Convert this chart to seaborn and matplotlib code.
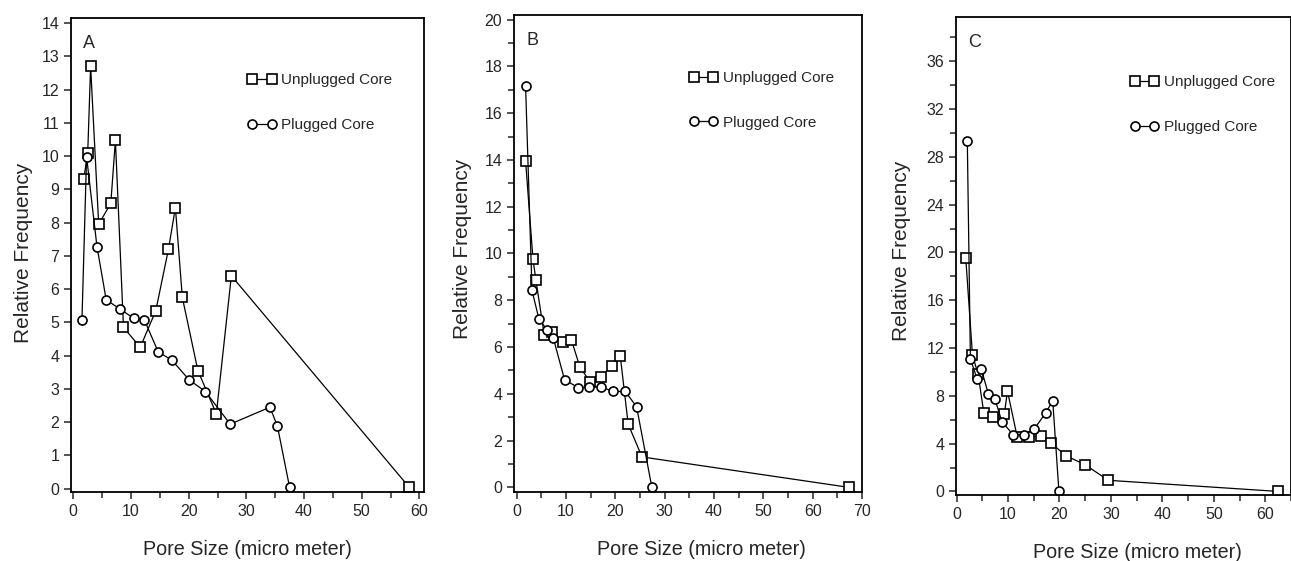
import matplotlib
matplotlib.use("Agg")
import matplotlib.pyplot as plt
from matplotlib.lines import Line2D
from matplotlib.ticker import MultipleLocator
import seaborn as sns

# panel A
a_unplug_x = [1.8, 2.5, 3.0, 4.4, 6.5, 7.3, 8.7, 11.6, 14.3, 16.5, 17.7, 18.9, 21.6, 24.8, 27.4, 58.2]
a_unplug_y = [9.3, 10.1, 12.7, 7.95, 8.58, 10.47, 4.85, 4.25, 5.35, 7.2, 8.45, 5.75, 3.55, 2.25, 6.4, 0.05]
a_plug_x = [1.5, 2.3, 4.1, 5.7, 8.1, 10.5, 12.3, 14.7, 17.1, 20.1, 22.9, 27.2, 34.1, 35.4, 37.5]
a_plug_y = [5.07, 9.98, 7.28, 5.68, 5.4, 5.12, 5.08, 4.12, 3.86, 3.27, 2.92, 1.94, 2.45, 1.87, 0.04]

# panel B
b_unplug_x = [1.8, 3.3, 3.9, 5.6, 7.2, 9.3, 11.1, 12.8, 14.9, 17.0, 19.3, 21.0, 22.6, 25.4, 67.3]
b_unplug_y = [13.95, 9.75, 8.85, 6.5, 6.65, 6.2, 6.3, 5.15, 4.5, 4.72, 5.2, 5.6, 2.7, 1.3, 0.0]
b_plug_x = [1.8, 3.1, 4.5, 6.2, 7.4, 9.7, 12.5, 14.7, 17.0, 19.5, 22.0, 24.3, 27.4]
b_plug_y = [17.15, 8.42, 7.2, 6.72, 6.4, 4.6, 4.26, 4.3, 4.3, 4.1, 4.1, 3.45, 0.0]

# panel C
c_unplug_x = [1.8, 3.1, 4.2, 5.3, 7.0, 9.3, 9.9, 11.8, 14.1, 16.4, 18.4, 21.2, 25.0, 29.5, 62.5]
c_unplug_y = [19.5, 11.4, 9.8, 6.6, 6.25, 6.5, 8.4, 4.55, 4.55, 4.62, 4.05, 3.0, 2.23, 0.93, 0.0]
c_plug_x = [2.1, 2.7, 4.0, 4.8, 6.2, 7.5, 8.8, 11.0, 13.1, 15.1, 17.3, 18.7, 19.9]
c_plug_y = [29.3, 11.1, 9.4, 10.25, 8.15, 7.7, 5.85, 4.75, 4.75, 5.22, 6.55, 7.58, 0.0]

panel_names = ["A", "B", "C"]
legend_labels = ["Unplugged Core", "Plugged Core"]

sns.set_style("ticks")
plt.rcParams["font.family"] = ["Liberation Sans", "DejaVu Sans"]

fig = plt.figure(figsize=(12.91, 5.61), dpi=100)

# axes boxes in pixels
boxes = [
    [71 / 1291, 69 / 561, 353 / 1291, 474 / 561],
    [514 / 1291, 69 / 561, 348 / 1291, 477 / 561],
    [956 / 1291, 66 / 561, 335 / 1291, 478 / 561],
]
limits = [
    ((-0.4, 60.8), (-0.1, 14.15)),
    ((-0.55, 70.0), (-0.2, 20.2)),
    ((-0.1, 65.0), (-0.3, 39.7)),
]
yticks = [(1, None), (2, 1), (4, 2)]
legend_pos = [(0.501, 0.883), (0.504, 0.882), (0.521, 0.878)]
ylabel_pos = [(-0.108, 0.504), (-0.121, 0.51), (-0.134, 0.51)]
xlabel_pos = [(0.501, -0.101), (0.539, -0.101), (0.543, -0.100)]

series = [
    (a_unplug_x, a_unplug_y, a_plug_x, a_plug_y),
    (b_unplug_x, b_unplug_y, b_plug_x, b_plug_y),
    (c_unplug_x, c_unplug_y, c_plug_x, c_plug_y),
]

line_kw = dict(color="black", linewidth=0.9, markerfacecolor="white",
               markeredgecolor="black", markeredgewidth=1.2, markersize=6.5)

for i in range(3):
    ax = fig.add_axes(boxes[i])
    ux, uy, px, py = series[i]
    sns.lineplot(x=ux, y=uy, marker="s", sort=False, estimator=None, ax=ax, **line_kw)
    sns.lineplot(x=px, y=py, marker="o", sort=False, estimator=None, ax=ax, **line_kw)

    ax.set_xlim(*limits[i][0])
    ax.set_ylim(*limits[i][1])
    ax.xaxis.set_major_locator(MultipleLocator(10))
    ax.xaxis.set_minor_locator(MultipleLocator(5))
    major, minor = yticks[i]
    ax.yaxis.set_major_locator(MultipleLocator(major))
    if minor:
        ax.yaxis.set_minor_locator(MultipleLocator(minor))
    ax.tick_params(which="both", direction="out", width=1.1, labelsize=11.5, top=False, right=False)
    ax.tick_params(which="major", length=5)
    ax.tick_params(which="minor", length=4)
    for s in ax.spines.values():
        s.set_linewidth(1.3)
        s.set_color("black")

    ax.set_xlabel("Pore Size (micro meter)", fontsize=14.2)
    ax.set_ylabel("Relative Frequency", fontsize=15)
    ax.xaxis.set_label_coords(*xlabel_pos[i])
    ax.yaxis.set_label_coords(*ylabel_pos[i])
    ax.text(0.035, 0.965, panel_names[i], transform=ax.transAxes, fontsize=13,
            va="top", ha="left")

    handles = [
        Line2D([], [], marker="s", **line_kw),
        Line2D([], [], marker="o", **line_kw),
    ]
    ax.legend(handles, legend_labels, numpoints=2, frameon=False, loc="upper left",
              bbox_to_anchor=legend_pos[i], borderpad=0, borderaxespad=0,
              handlelength=1.85, handletextpad=0.35, labelspacing=2.0, fontsize=11)

fig.savefig("out.png", dpi=100)
